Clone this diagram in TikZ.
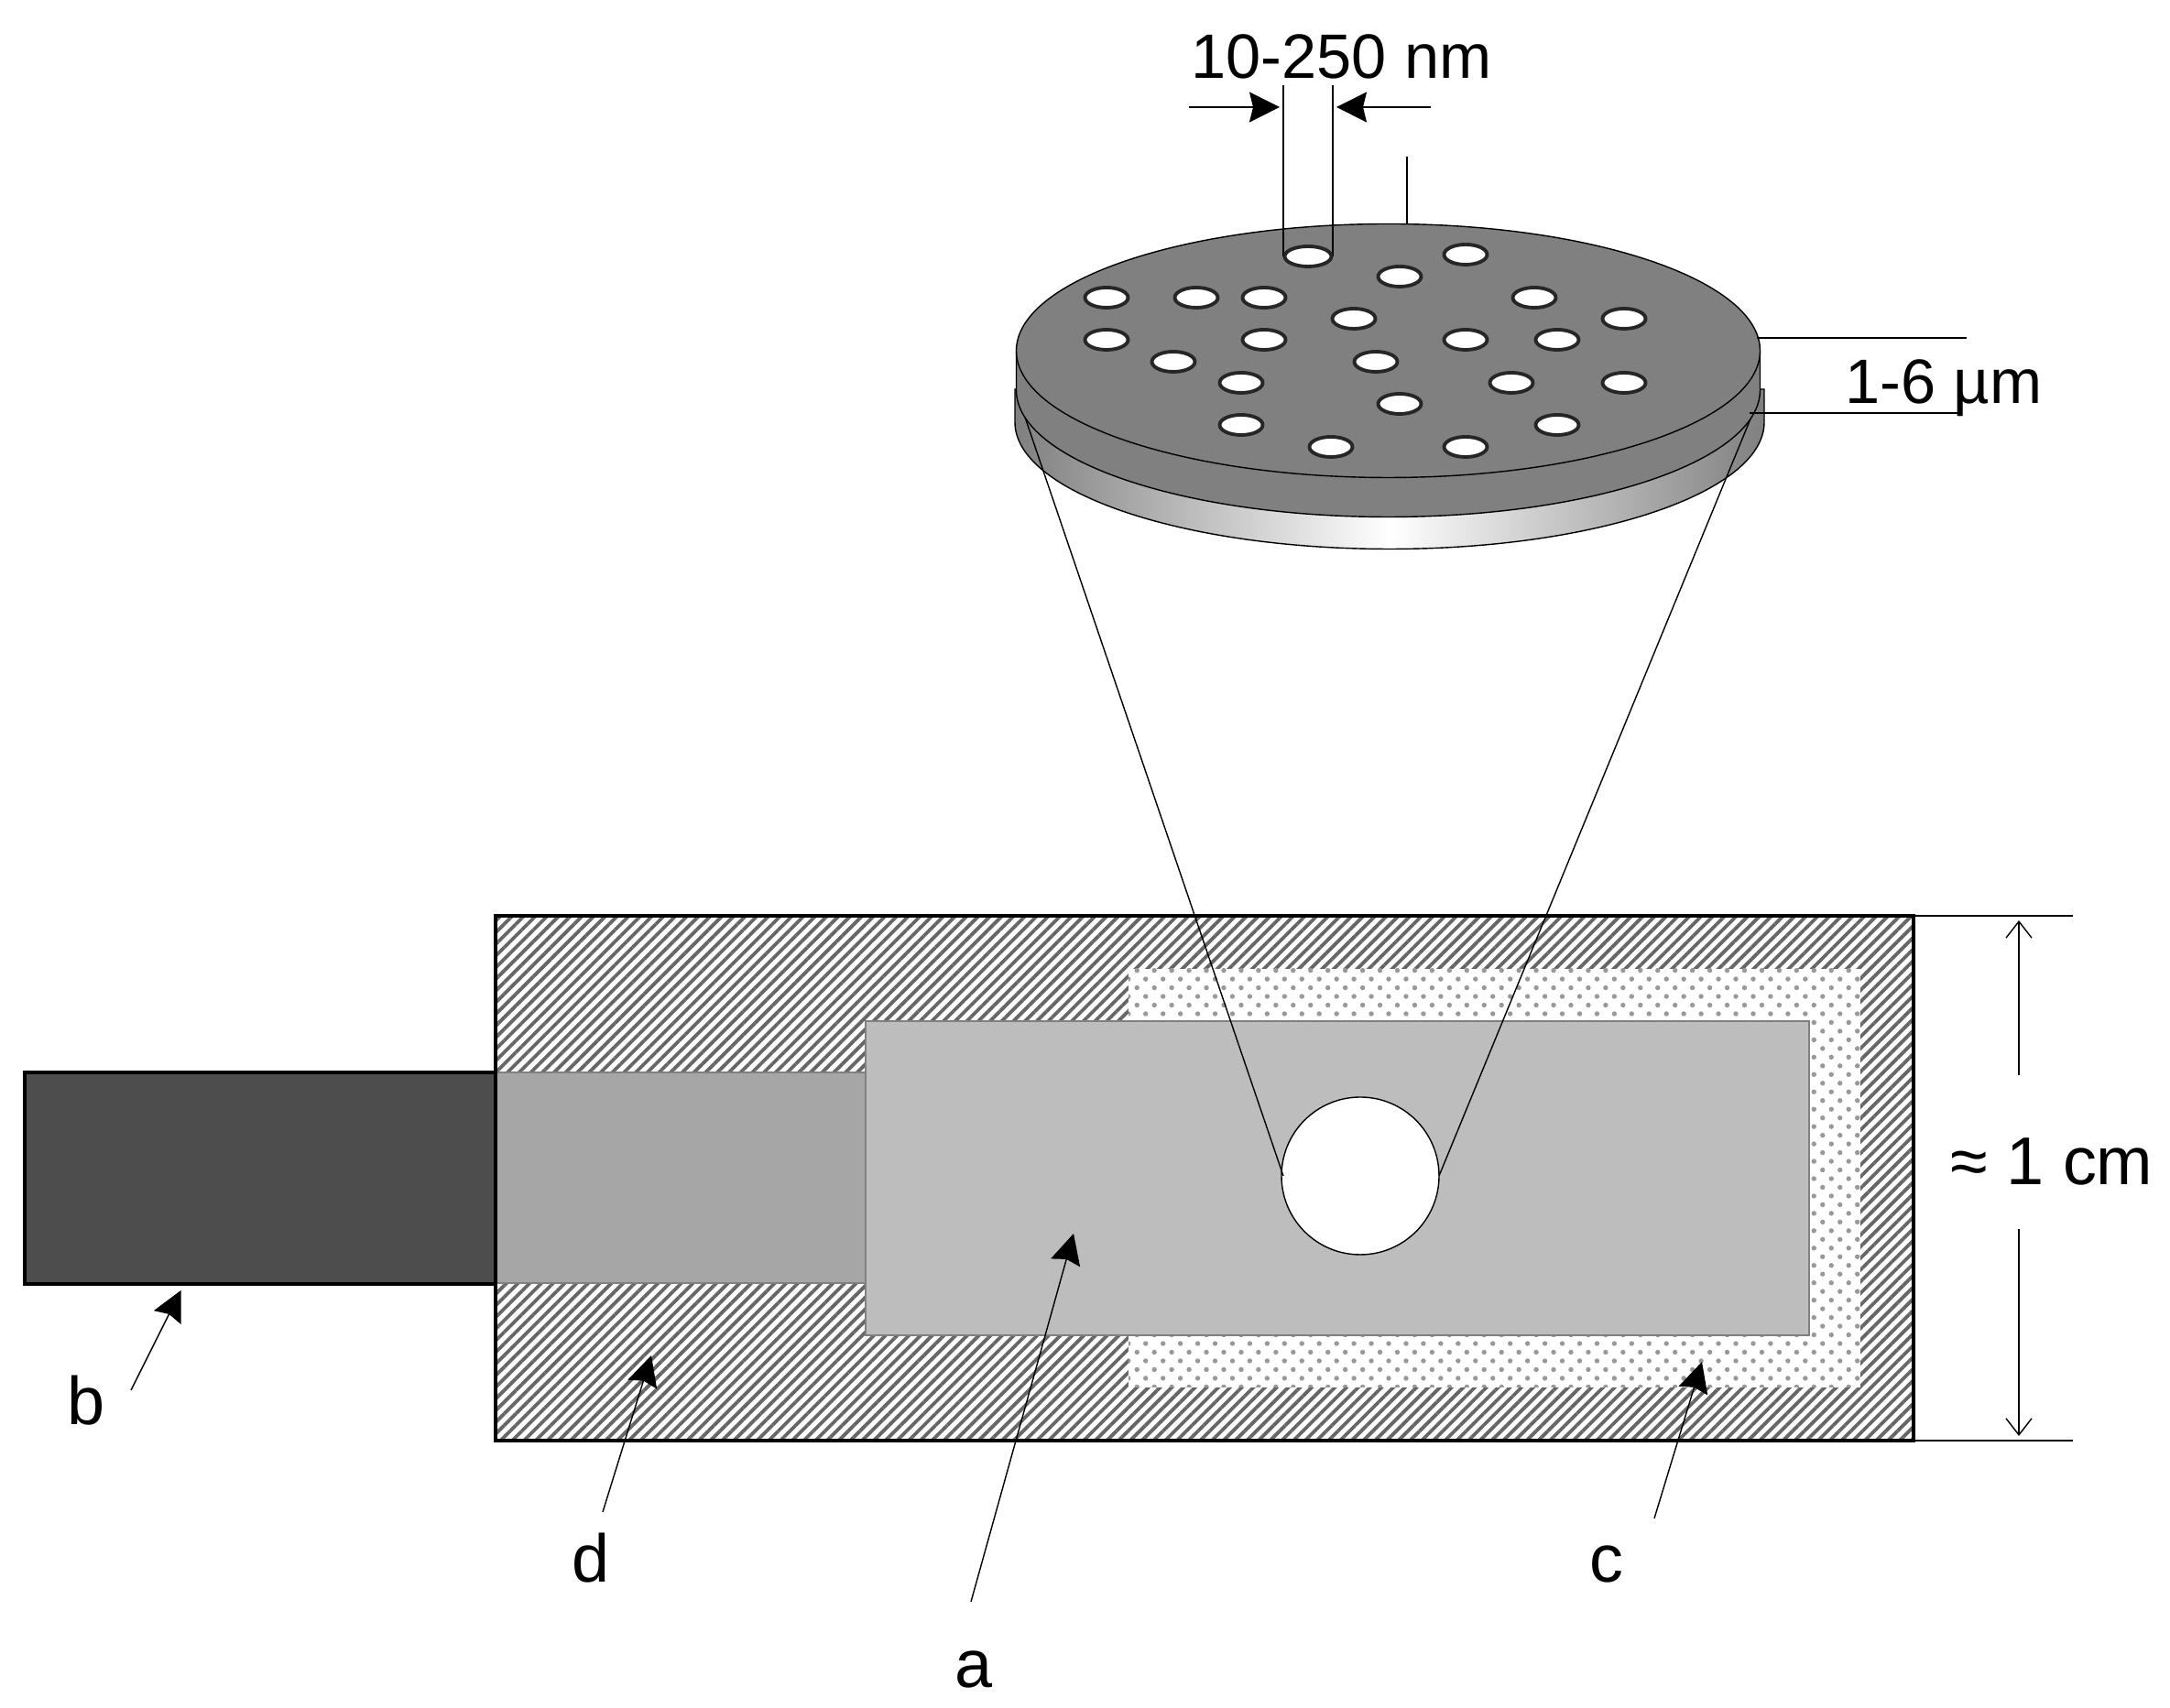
\documentclass[tikz,border=0pt]{standalone}
\usepackage{fontspec}
\setmainfont{Liberation Sans}
\usetikzlibrary{arrows.meta, patterns.meta}
\definecolor{diskgray}{HTML}{808080}
\definecolor{holder}{HTML}{BDBDBD}
\definecolor{guide}{HTML}{A6A6A6}
\definecolor{wire}{HTML}{4D4D4D}
\definecolor{stripe}{HTML}{666666}
\definecolor{speck}{HTML}{999999}
\tikzset{
  >={Stealth[length=3.3mm, width=3.3mm, inset=0.4mm]},
  line width=1.2pt,
  hatched/.style={pattern={Lines[angle=45, distance=0.9mm, line width=0.38mm]}, pattern color=stripe},
  dotted fill/.style={pattern={Dots[angle=45, distance=1.34mm, radius=0.27mm]}, pattern color=speck},
  inner part/.style={draw=diskgray, line width=0.7pt},
  pore/.style={draw=black!85, fill=white, line width=1.1pt},
  small label/.style={anchor=base, inner sep=0pt, font=\fontsize{19.5pt}{22pt}\selectfont},
  big label/.style={anchor=base, inner sep=0pt, font=\fontsize{21pt}{24pt}\selectfont},
  span/.style={->, >={Straight Barb[length=1.8mm, width=2.8mm]}}
}
\begin{document}
\begin{tikzpicture}
  \useasboundingbox (0, 0) rectangle (23.69, 18.65);

  \fill [white] (5.41, 2.92) rectangle (20.89, 8.65);
  \fill [hatched] (5.41, 2.92) rectangle (20.89, 8.65);
  \fill [white] (12.32, 3.50) rectangle (20.31, 8.07);
  \fill [dotted fill] (12.32, 3.50) rectangle (20.31, 8.07);
  \draw [inner part, fill=holder] (9.45, 4.07) rectangle (19.75, 7.50);
  \draw [inner part, fill=guide] (5.41, 4.64) rectangle (9.45, 6.94);
  \draw [line width=1.4pt, fill=wire] (0.27, 4.63) rectangle (5.41, 6.94);
  \draw [line width=1.4pt] (5.41, 2.92) rectangle (20.89, 8.65);
  \draw [fill=white] (14.85, 5.81) circle [radius = 0.86];

  % plate under the membrane
  \draw [left color=diskgray, right color=diskgray, middle color=white]
    (11.08, 14.40) -- (11.08, 14.04)
    arc [start angle = 180, end angle = 360, x radius = 4.09, y radius = 1.385]
    -- (19.26, 14.40) -- cycle;

  \draw (11.13, 14.27) -- (14.01, 5.81);
  \draw (19.19, 14.27) -- (15.71, 5.81);

  % membrane
  \draw [fill=diskgray] (11.095, 14.82) -- (11.095, 14.39)
    arc [start angle = 180, end angle = 360, x radius = 4.06, y radius = 1.385]
    -- (19.215, 14.82) -- cycle;
  \draw [fill=diskgray] (15.155, 14.82) circle [x radius = 4.06, y radius = 1.385];

  \draw (14.01, 17.72) -- (14.01, 15.85);
  \draw (14.55, 17.72) -- (14.55, 15.85);
  \draw [pore] (14.28, 15.85) circle [x radius = 0.255, y radius = 0.11];
  \draw [pore] (16.00, 15.87) circle [x radius = 0.235, y radius = 0.11];
  \draw [pore] (15.28, 15.63) circle [x radius = 0.235, y radius = 0.11];
  \draw [pore] (12.08, 15.40) circle [x radius = 0.235, y radius = 0.11];
  \draw [pore] (13.06, 15.40) circle [x radius = 0.235, y radius = 0.11];
  \draw [pore] (13.80, 15.40) circle [x radius = 0.235, y radius = 0.11];
  \draw [pore] (16.75, 15.40) circle [x radius = 0.235, y radius = 0.11];
  \draw [pore] (14.78, 15.17) circle [x radius = 0.235, y radius = 0.11];
  \draw [pore] (17.73, 15.17) circle [x radius = 0.235, y radius = 0.11];
  \draw [pore] (12.08, 14.94) circle [x radius = 0.235, y radius = 0.11];
  \draw [pore] (13.80, 14.94) circle [x radius = 0.235, y radius = 0.11];
  \draw [pore] (16.00, 14.94) circle [x radius = 0.235, y radius = 0.11];
  \draw [pore] (17.00, 14.94) circle [x radius = 0.235, y radius = 0.11];
  \draw [pore] (12.81, 14.70) circle [x radius = 0.235, y radius = 0.11];
  \draw [pore] (15.02, 14.70) circle [x radius = 0.235, y radius = 0.11];
  \draw [pore] (13.55, 14.47) circle [x radius = 0.235, y radius = 0.11];
  \draw [pore] (16.50, 14.47) circle [x radius = 0.235, y radius = 0.11];
  \draw [pore] (17.73, 14.47) circle [x radius = 0.235, y radius = 0.11];
  \draw [pore] (15.28, 14.24) circle [x radius = 0.235, y radius = 0.11];
  \draw [pore] (13.55, 14.01) circle [x radius = 0.235, y radius = 0.11];
  \draw [pore] (17.00, 14.01) circle [x radius = 0.235, y radius = 0.11];
  \draw [pore] (14.53, 13.77) circle [x radius = 0.235, y radius = 0.11];
  \draw [pore] (16.00, 13.77) circle [x radius = 0.235, y radius = 0.11];

  % sizes on the membrane
  \node [small label] (pore size) at (14.645, 17.79) {10-250 nm};
  \draw [->] (12.98, 17.48) -- (13.97, 17.48);
  \draw [->] (15.62, 17.48) -- (14.59, 17.48);
  \draw (15.36, 16.94) -- (15.36, 16.20);
  \node [small label] (thickness) at (21.22, 14.24) {1-6 µm};
  \draw (19.18, 14.96) -- (21.47, 14.96);
  \draw (19.10, 14.14) -- (21.40, 14.14) -- (21.40, 14.26);

  % size of the holder
  \node [big label] (holder size) at (22.40, 5.71) {≈ 1 cm};
  \draw (20.89, 8.65) -- (22.63, 8.65);
  \draw (20.89, 2.92) -- (22.63, 2.92);
  \draw [span] (22.04, 6.91) -- (22.04, 8.60);
  \draw [span] (22.04, 5.23) -- (22.04, 2.97);

  % parts
  \node [big label] (label a) at (10.63, 0.22) {a};
  \node [big label] (label b) at (0.945, 3.09) {b};
  \node [big label] (label c) at (17.54, 1.37) {c};
  \node [big label] (label d) at (6.45, 1.37) {d};
  \coordinate (a tail) at (10.60, 1.16);
  \coordinate (a tip) at (11.72, 5.18);
  \coordinate (b tail) at (1.43, 3.47);
  \coordinate (b tip) at (1.975, 4.56);
  \coordinate (c tail) at (18.06, 2.07);
  \coordinate (c tip) at (18.58, 3.78);
  \coordinate (d tail) at (6.58, 2.14);
  \coordinate (d tip) at (7.11, 3.85);
  \draw [->] (a tail) -- (a tip);
  \draw [->] (b tail) -- (b tip);
  \draw [->] (c tail) -- (c tip);
  \draw [->] (d tail) -- (d tip);
\end{tikzpicture}
\end{document}
